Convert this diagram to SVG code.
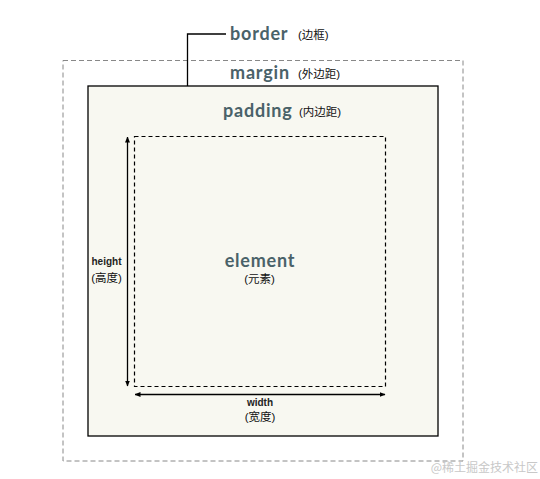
<svg xmlns="http://www.w3.org/2000/svg" width="540" height="479" viewBox="0 0 540 479">
<style>
.lbl{font-family:Lato,"Open Sans","Noto Sans",sans-serif;font-weight:bold;fill:#4a6269;font-size:18px;letter-spacing:0.8px}
.cn{font-family:"Liberation Sans","Noto Sans CJK SC",sans-serif;fill:#111;font-size:11.5px}
.sm{font-family:"Liberation Sans","Noto Sans",sans-serif;font-weight:bold;fill:#222;font-size:10px}
.ln{stroke:#000;stroke-width:1.3;fill:none}
</style>
<defs>
<marker id="ah" viewBox="0 0 6 6" refX="5.5" refY="3" markerWidth="6" markerHeight="6" orient="auto-start-reverse" markerUnits="userSpaceOnUse">
<path d="M0,0.5 L6,3 L0,5.5 z" fill="#000"/>
</marker>
</defs>
<rect width="540" height="479" fill="#fff"/>
<g id="margin">
<rect x="63" y="60.5" width="400" height="400.5" fill="none" stroke="#888" stroke-width="1" stroke-dasharray="5,3"/>
<text class="lbl" x="230" y="79">margin</text>
<text class="cn" x="298" y="78">(外边距)</text>
</g>
<g id="border">
<rect x="88" y="86" width="350" height="350" fill="#f8f8f1" stroke="#000" stroke-width="1.3"/>
<text class="lbl" x="230" y="40">border</text>
<text class="cn" x="298" y="39">(边框)</text>
</g>
<g id="padding">
<text class="lbl" x="223" y="117">padding</text>
<text class="cn" x="299" y="116">(内边距)</text>
</g>
<g id="element">
<rect x="134.5" y="136.5" width="251" height="250" fill="none" stroke="#000" stroke-width="1.2" stroke-dasharray="4,3"/>
<text class="lbl" x="260" y="267" text-anchor="middle">element</text>
<text class="cn" x="259.5" y="283" text-anchor="middle">(元素)</text>
</g>
<g id="height">
<text class="sm" x="106.5" y="265" text-anchor="middle">height</text>
<text class="cn" x="106.5" y="282" text-anchor="middle">(高度)</text>
</g>
<g id="width">
<text class="sm" x="260" y="406" text-anchor="middle">width</text>
<text class="cn" x="260" y="421" text-anchor="middle">(宽度)</text>
</g>
<g id="connectors">
<path class="ln" d="M187.5,86 V34 H226" stroke="#3d4f55"/>
<line class="ln" x1="127.5" y1="137" x2="127.5" y2="386" marker-start="url(#ah)" marker-end="url(#ah)"/>
<line class="ln" x1="135" y1="394.5" x2="385" y2="394.5" marker-start="url(#ah)" marker-end="url(#ah)"/>
</g>
<text x="538" y="472" text-anchor="end" font-family="'Noto Sans CJK SC',sans-serif" font-size="12" fill="#c8c8c8">@稀土掘金技术社区</text>
</svg>
